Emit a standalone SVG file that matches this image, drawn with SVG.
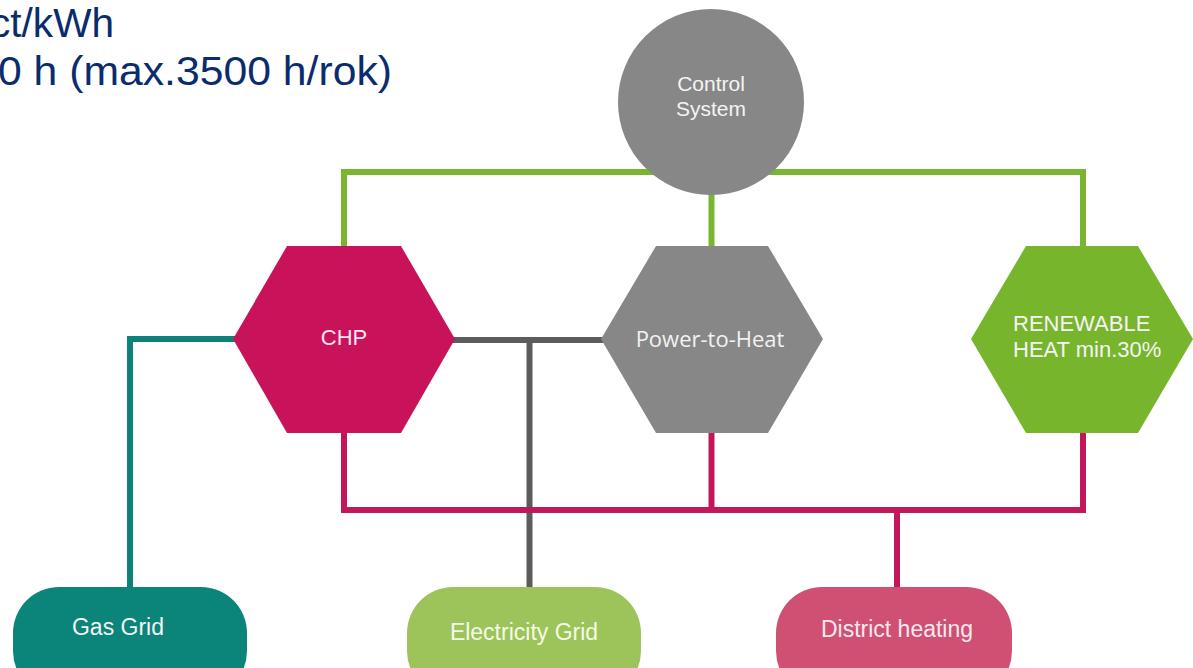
<svg xmlns="http://www.w3.org/2000/svg" width="1193" height="668" viewBox="0 0 1193 668">
<style>
.ln{fill:none;stroke-width:6;stroke-linejoin:miter;stroke-linecap:butt}
.green{stroke:#79b530}
.pink{stroke:#c2185b}
.gray{stroke:#5c5c5c}
.teal{stroke:#0e8278}
.lbl{font-family:"Liberation Sans",Arial,sans-serif;fill:#f4f4f4}
.hdr{font-family:"Liberation Sans",Arial,sans-serif;fill:#0b2c6c;font-size:40px}
</style>
<rect width="1193" height="668" fill="#ffffff"/>
<g id="header">
<text class="hdr" x="-10" y="37" textLength="124" lengthAdjust="spacingAndGlyphs">ct/kWh</text>
<text class="hdr" x="-2" y="85" textLength="394" lengthAdjust="spacingAndGlyphs">0 h (max.3500 h/rok)</text>
</g>
<g id="connectors">
<polyline class="ln green" points="344,250 344,172 1083,172 1083,250"/>
<line class="ln green" x1="711.5" y1="190" x2="711.5" y2="250"/>
<polyline class="ln teal" points="238,339 130,339 130,590"/>
<line class="ln gray" x1="450" y1="340" x2="606" y2="340"/>
<line class="ln gray" x1="529.5" y1="340" x2="529.5" y2="590"/>
<polyline class="ln pink" points="344,430 344,510 1083,510 1083,430"/>
<line class="ln pink" x1="711.5" y1="430" x2="711.5" y2="510"/>
<line class="ln pink" x1="897" y1="510" x2="897" y2="590"/>
</g>
<g id="control-system">
<circle cx="711" cy="102" r="93" fill="#878787"/>
<text class="lbl" x="711" y="91" font-size="21" text-anchor="middle">Control</text>
<text class="lbl" x="711" y="116" font-size="21" text-anchor="middle">System</text>
</g>
<g id="chp">
<polygon points="233,339 287,246 401,246 455,339 401,433 287,433" fill="#c8125a"/>
<text class="lbl" x="344" y="345" font-size="22" text-anchor="middle" fill="#fbe3ee" style="fill:#fbe3ee">CHP</text>
</g>
<g id="power-to-heat">
<polygon points="601,339 656,246 768,246 823,339 768,433 656,433" fill="#878787"/>
<text x="710" y="347" font-size="22" text-anchor="middle" style="font-family:'Open Sans','Liberation Sans',sans-serif;fill:#f2f2f2">Power-to-Heat</text>
</g>
<g id="renewable-heat">
<polygon points="971,339 1026,246 1138,246 1193,339 1138,433 1026,433" fill="#77b52d"/>
<text class="lbl" x="1013" y="331" font-size="22">RENEWABLE</text>
<text class="lbl" x="1013" y="357" font-size="22">HEAT min.30%</text>
</g>
<g id="gas-grid">
<rect x="13" y="587" width="234" height="110" rx="46" ry="46" fill="#0b847a"/>
<text class="lbl" x="118" y="635" font-size="23" text-anchor="middle">Gas Grid</text>
</g>
<g id="electricity-grid">
<rect x="407" y="587" width="234" height="110" rx="46" ry="46" fill="#9cc45a"/>
<text class="lbl" x="524" y="640" font-size="23" text-anchor="middle" style="fill:#f6f9e6">Electricity Grid</text>
</g>
<g id="district-heating">
<rect x="776" y="587" width="236" height="110" rx="46" ry="46" fill="#cf5072"/>
<text class="lbl" x="897" y="637" font-size="23" text-anchor="middle" style="fill:#fbe8ee">District heating</text>
</g>
</svg>
